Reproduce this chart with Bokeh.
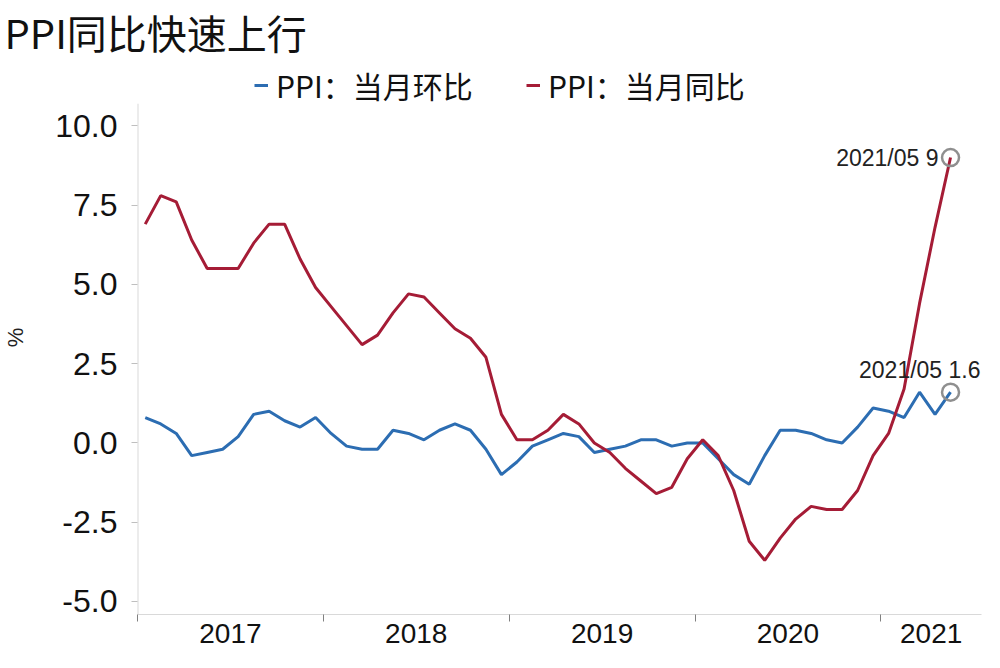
from bokeh.plotting import figure
from bokeh.models import (Range1d, FixedTicker, NumeralTickFormatter, Legend, LegendItem,
                          ColumnDataSource)
from bokeh.core.properties import value
from bokeh.embed import file_html
from bokeh.resources import INLINE

# ---- data ----
years = ["2017", "2018", "2019", "2020", "2021"]
last_label = "2021/05"
ppi_mom = [0.8, 0.6, 0.3, -0.4, -0.3, -0.2, 0.2, 0.9, 1.0, 0.7, 0.5, 0.8,
           0.3, -0.1, -0.2, -0.2, 0.4, 0.3, 0.1, 0.4, 0.6, 0.4, -0.2, -1.0,
           -0.6, -0.1, 0.1, 0.3, 0.2, -0.3, -0.2, -0.1, 0.1, 0.1, -0.1, 0.0,
           0.0, -0.5, -1.0, -1.3, -0.4, 0.4, 0.4, 0.3, 0.1, 0.0, 0.5, 1.1,
           1.0, 0.8, 1.6, 0.9, 1.6]
ppi_yoy = [6.9, 7.8, 7.6, 6.4, 5.5, 5.5, 5.5, 6.3, 6.9, 6.9, 5.8, 4.9,
           4.3, 3.7, 3.1, 3.4, 4.1, 4.7, 4.6, 4.1, 3.6, 3.3, 2.7, 0.9,
           0.1, 0.1, 0.4, 0.9, 0.6, 0.0, -0.3, -0.8, -1.2, -1.6, -1.4, -0.5,
           0.1, -0.4, -1.5, -3.1, -3.7, -3.0, -2.4, -2.0, -2.1, -2.1, -1.5, -0.4,
           0.3, 1.7, 4.4, 6.8, 9.0]
name_mom = "PPI：当月环比"
name_yoy = "PPI：当月同比"
y_ticks = [-5.0, -2.5, 0.0, 2.5, 5.0, 7.5, 10.0]
y_axis_lo, y_axis_hi = -5.41, 10.7   # visible extent of the value axis
y_frame_hi = 12.06                   # extra room above for the legend

BLUE = "#2C6DB2"
RED = "#A51C36"
NUM_FONT = "Liberation Sans"
CJK_FONT = "Noto Sans CJK SC"

n = len(ppi_yoy)
x = list(range(n))
x_start, x_end = -0.5, n + 1.0
src = ColumnDataSource(dict(x=x, mom=ppi_mom, yoy=ppi_yoy))

p = figure(width=984, height=652, output_backend="svg", toolbar_location=None,
           x_range=Range1d(x_start, x_end), y_range=Range1d(y_axis_lo, y_frame_hi),
           min_border_left=133, min_border_right=3, min_border_top=52, min_border_bottom=38)
p.outline_line_color = None
p.grid.visible = False
p.background_fill_color = "white"

# title
p.title.text = "PPI同比快速上行"
p.title.text_font = CJK_FONT
p.title.text_font_size = "40px"
p.title.text_font_style = "normal"
p.title.text_color = "#111111"
p.title.align = "left"
p.title.offset = -133
p.title.standoff = 0

# value-axis line (only over the axis extent)
p.segment(x0=[x_start], y0=[y_axis_lo], x1=[x_start], y1=[y_axis_hi],
          line_color="#d9d9d9", line_width=2)

r1 = p.line("x", "mom", source=src, line_color=BLUE, line_width=3)
r2 = p.line("x", "yoy", source=src, line_color=RED, line_width=3)

# end-point highlights
end_src = ColumnDataSource(dict(
    x=[x[-1], x[-1]], y=[ppi_yoy[-1], ppi_mom[-1]],
    txt=[f"{last_label} {ppi_yoy[-1]:g}", f"{last_label} {ppi_mom[-1]:g}"]))
p.scatter("x", "y", source=end_src, size=17, fill_color=None,
          line_color="#8f8f8f", line_width=2.5)
p.text(x=[x[-1]], y=[ppi_yoy[-1]], text=[end_src.data["txt"][0]], text_align="right",
       text_baseline="middle", x_offset=-12, y_offset=0,
       text_font=value(NUM_FONT), text_font_size="23px", text_color="#222222")
p.text(x=[x[-1]], y=[ppi_mom[-1]], text=[end_src.data["txt"][1]], text_align="right",
       text_baseline="middle", x_offset=30, y_offset=-22,
       text_font=value(NUM_FONT), text_font_size="23px", text_color="#222222")

# y axis
ya = p.yaxis[0]
ya.ticker = FixedTicker(ticks=y_ticks)
ya.formatter = NumeralTickFormatter(format="0.0")
ya.axis_line_color = None
ya.major_tick_line_color = "#bfbfbf"
ya.major_tick_in = 0
ya.major_tick_out = 6
ya.minor_tick_line_color = None
ya.major_label_standoff = 14
ya.major_label_text_font = NUM_FONT
ya.major_label_text_font_size = "32px"
ya.major_label_text_color = "#111111"
ya.axis_label = "%"
ya.axis_label_text_font = NUM_FONT
ya.axis_label_text_font_size = "22px"
ya.axis_label_text_font_style = "normal"
ya.axis_label_text_color = "#222222"
ya.axis_label_standoff = 24

# x axis: year boundaries as ticks, year names centred in each year
bounds = [12 * k - 0.5 for k in range(len(years))]
mids = [(b + min(b + 12, x_end)) / 2 for b in bounds]
xa = p.xaxis[0]
xa.ticker = FixedTicker(ticks=mids, minor_ticks=bounds)
xa.major_label_overrides = {m: y for m, y in zip(mids, years)}
xa.axis_line_color = "#d9d9d9"
xa.major_tick_line_color = None
xa.minor_tick_line_color = "#808080"
xa.minor_tick_in = 0
xa.minor_tick_out = 7
xa.major_label_standoff = 2
xa.major_label_text_font = NUM_FONT
xa.major_label_text_font_size = "28px"
xa.major_label_text_line_height = 0.8
xa.axis_label_standoff = 0
xa.major_label_text_color = "#111111"

legend = Legend(items=[LegendItem(label=name_mom, renderers=[r1]),
                       LegendItem(label=name_yoy, renderers=[r2])],
                orientation="horizontal", location=(117, 507),
                label_text_font=CJK_FONT, label_text_font_size="30px",
                label_text_color="#111111", glyph_width=14, glyph_height=20,
                label_standoff=8, label_width=220, spacing=30, padding=2, margin=0,
                border_line_color=None, background_fill_alpha=0)
p.add_layout(legend, "center")

open("out.html", "w").write(file_html(p, INLINE))
